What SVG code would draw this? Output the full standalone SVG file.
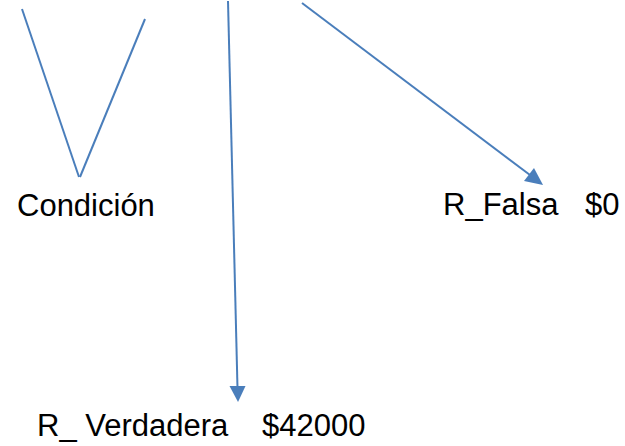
<svg xmlns="http://www.w3.org/2000/svg" width="625" height="446" viewBox="0 0 625 446">
<style>
.ln{stroke:#4a7ebb;stroke-width:2;fill:none}
.t{font-family:"Liberation Sans",Arial,sans-serif;font-size:31px;fill:#000}
</style>
<defs>
<marker id="ah" viewBox="0 0 10 10" refX="10" refY="5" markerWidth="5" markerHeight="5" markerUnits="userSpaceOnUse" orient="auto" overflow="visible">
<path d="M0,0 L10,5 L0,10 z" fill="#4a7ebb" transform="scale(1.6) translate(-3.75,-3.1)"/>
</marker>
</defs>
<rect width="625" height="446" fill="#fff"/>
<g id="connectors">
<path class="ln" d="M22,9 L79,177"/>
<path class="ln" d="M145,19 L80,177"/>
<path class="ln" d="M228,1 L237.5,388"/>
<path d="M229.5,386 L245.5,386 L238,402 z" fill="#4a7ebb"/>
<path class="ln" d="M302,3 L530,175"/>
<path d="M524,181 L534,168 L543,185 z" fill="#4a7ebb"/>
</g>
<g id="condicion"><text class="t" x="17" y="216">Condición</text></g>
<g id="r_falsa"><text class="t" x="443" y="215">R_Falsa</text><text class="t" x="585" y="215">$0</text></g>
<g id="r_verdadera"><text class="t" x="37" y="436">R_ Verdadera</text><text class="t" x="262" y="436">$42000</text></g>
</svg>
